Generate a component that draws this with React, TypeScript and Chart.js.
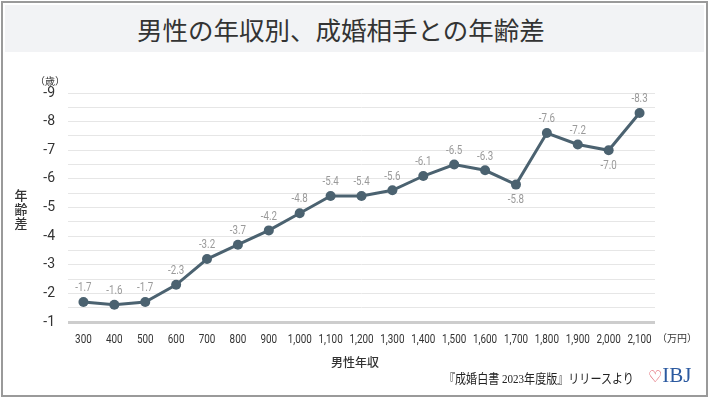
import React, { useEffect, useRef } from "react";
import { Chart, registerables } from "chart.js";

Chart.register(...registerables);

const categories = ["300", "400", "500", "600", "700", "800", "900", "1,000", "1,100", "1,200", "1,300", "1,400", "1,500", "1,600", "1,700", "1,800", "1,900", "2,000", "2,100"];
const ageGap = [-1.7, -1.6, -1.7, -2.3, -3.2, -3.7, -4.2, -4.8, -5.4, -5.4, -5.6, -6.1, -6.5, -6.3, -5.8, -7.6, -7.2, -7.0, -8.3];
const labelBelow = [14, 17];

const FONT = "Roboto, 'Noto Sans', sans-serif";
const LINE = "#4b6270";

// Draws text horizontally condensed (the original uses a condensed typeface)
function narrowText(ctx: CanvasRenderingContext2D, text: string, x: number, y: number, sx: number) {
  ctx.save();
  ctx.translate(x, y);
  ctx.scale(sx, 1);
  ctx.fillText(text, 0, 0);
  ctx.restore();
}

const dataLabels = {
  id: "dataLabels",
  afterDatasetsDraw(chart: any) {
    const ctx = chart.ctx;
    const meta = chart.getDatasetMeta(0);
    ctx.save();
    ctx.font = `13px ${FONT}`;
    ctx.fillStyle = "#9a9a9a";
    ctx.textAlign = "center";
    ctx.textBaseline = "middle";
    meta.data.forEach((pt: any, i: number) => {
      const below = labelBelow.includes(i);
      const v = chart.data.datasets[0].data[i] as number;
      narrowText(ctx, v.toFixed(1), pt.x, pt.y + (below ? 15 : -14), 0.75);
    });
    ctx.restore();
  },
};

const narrowXTicks = {
  id: "narrowXTicks",
  afterDraw(chart: any) {
    const ctx = chart.ctx;
    const scale = chart.scales.x;
    ctx.save();
    ctx.font = `13px ${FONT}`;
    ctx.fillStyle = "#333";
    ctx.textAlign = "center";
    ctx.textBaseline = "middle";
    scale.ticks.forEach((t: any, i: number) => {
      const x = scale.getPixelForTick(i);
      narrowText(ctx, String(chart.data.labels[t.value ?? i]), x, chart.chartArea.bottom + 18, 0.76);
    });
    ctx.restore();
  },
};

export default function App() {
  const ref = useRef<HTMLCanvasElement>(null);
  useEffect(() => {
    document.body.style.margin = "0";
    const chart = new Chart(ref.current!, {
      type: "line",
      data: {
        labels: categories,
        datasets: [
          {
            data: ageGap,
            borderColor: LINE,
            backgroundColor: LINE,
            borderWidth: 3,
            pointRadius: 5,
            pointBackgroundColor: LINE,
            pointBorderWidth: 0,
            tension: 0,
          },
        ],
      },
      options: {
        animation: false,
        responsive: false,
        maintainAspectRatio: false,
        layout: { padding: { left: 0, top: 93, right: 55, bottom: 47 } },
        plugins: { legend: { display: false }, tooltip: { enabled: false } },
        scales: {
          x: {
            offset: true,
            grid: { display: false },
            border: { display: false },
            ticks: { display: false, autoSkip: false, maxRotation: 0 },
            afterFit: (s: any) => {
              s.height = 30;
            },
          },
          y: {
            reverse: true,
            min: -9,
            max: -1,
            border: { display: false },
            grid: {
              drawTicks: false,
              color: (c: any) => (c.tick && c.tick.value === -1 ? "#cdcdcd" : "#e6e6e6"),
              lineWidth: (c: any) => (c.tick && c.tick.value === -1 ? 3 : 1),
            },
            ticks: {
              stepSize: 0.5,
              autoSkip: false,
              padding: 13,
              color: "#333",
              font: { family: FONT, size: 14 },
              callback: (v: any) => (Number.isInteger(v) ? String(v) : ""),
            },
            afterFit: (s: any) => {
              s.width = 68;
            },
          },
        },
      },
      plugins: [dataLabels, narrowXTicks],
    });
    return () => chart.destroy();
  }, []);

  const abs = (o: React.CSSProperties): React.CSSProperties => ({ position: "absolute", ...o });
  const cjk = "'Noto Sans CJK JP', 'Noto Sans', sans-serif";

  return (
    <div style={{ position: "fixed", left: 0, top: 0, width: 710, height: 399, background: "#fff", overflow: "hidden" }}>
      <div style={abs({ left: 1, top: 1, width: 707, height: 396, border: "2px solid #9a9a9a", boxSizing: "border-box" })} />
      <div style={abs({ left: 5, top: 5, width: 699, height: 47, background: "#f2f3f5" })} />
      <div
        style={abs({
          left: 137,
          top: 5,
          height: 47,
          lineHeight: "47px",
          whiteSpace: "nowrap",
          fontFamily: cjk,
          fontSize: 25.5,
          color: "#333",
          fontWeight: 400,
        })}
      >
        男性の年収別、成婚相手との年齢差
      </div>
      <canvas ref={ref} width={710} height={399} style={abs({ left: 0, top: 0, width: 710, height: 399 })} />
      <div style={abs({ left: 35, top: 74, lineHeight: "14px", fontFamily: cjk, fontSize: 10, color: "#333", whiteSpace: "nowrap" })}>（歳）</div>
      <div style={abs({ left: 14, top: 188, width: 14, fontFamily: cjk, fontSize: 13, lineHeight: "14px", color: "#333", fontWeight: 500, textAlign: "center" })}>
        年<br />齢<br />差
      </div>
      <div style={abs({ left: 657, top: 331, lineHeight: "14px", fontFamily: cjk, fontSize: 10, color: "#333", whiteSpace: "nowrap" })}>（万円）</div>
      <div style={abs({ left: 305, top: 353, width: 100, textAlign: "center", fontFamily: cjk, fontSize: 12, color: "#333", fontWeight: 500 })}>男性年収</div>
      <div
        style={abs({
          left: 444,
          top: 370,
          lineHeight: "18px",
          fontFamily: "'Liberation Serif', 'Noto Sans CJK JP', serif",
          fontSize: 13,
          color: "#222",
          whiteSpace: "nowrap",
          transform: "scaleX(0.85)",
          transformOrigin: "left center",
        })}
      >
        『成婚白書 2023年度版』リリースより
      </div>
      <div style={abs({ left: 648, top: 363, whiteSpace: "nowrap", fontFamily: "'Liberation Serif', serif", fontSize: 21, lineHeight: "24px" })}>
        <span style={{ color: "#d9414f", fontSize: 16, fontFamily: "'DejaVu Sans', sans-serif" }}>♡</span>
        <span style={{ color: "#2c5aa0" }}>IBJ</span>
      </div>
    </div>
  );
}
